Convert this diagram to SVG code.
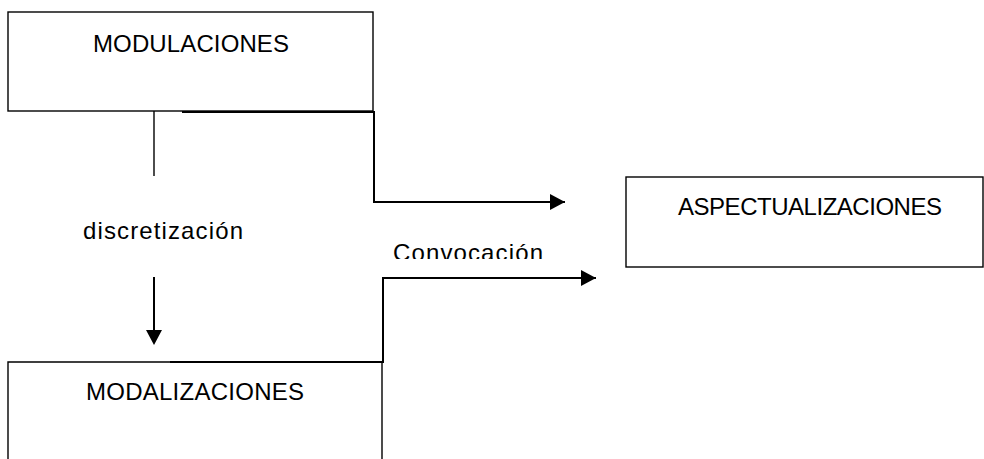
<svg xmlns="http://www.w3.org/2000/svg" width="984" height="459" viewBox="0 0 984 459">
<style>
.box{fill:#fff;stroke:#000;stroke-width:1.4}
.t{font-family:"Liberation Sans",Arial,sans-serif;font-size:24px;fill:#000}
.c{fill:none;stroke:#000;stroke-width:2}
.thin{fill:none;stroke:#000;stroke-width:1.4}
</style>
<defs>
<marker id="ah" markerUnits="userSpaceOnUse" markerWidth="16" markerHeight="16" refX="15" refY="8" orient="auto">
<path d="M0,0 L15,8 L0,16 Z" fill="#000"/>
</marker>
<clipPath id="cc"><rect x="380" y="230" width="200" height="29"/></clipPath>
</defs>
<g id="modulaciones">
<rect class="box" x="8" y="12" width="365" height="99"/>
<text class="t" x="191" y="52" text-anchor="middle" textLength="196">MODULACIONES</text>
</g>
<g id="aspectualizaciones">
<rect class="box" x="626" y="177" width="357" height="90"/>
<text class="t" x="810" y="215" text-anchor="middle" textLength="264">ASPECTUALIZACIONES</text>
</g>
<g id="modalizaciones">
<path class="box" d="M8,470 V362 H382 V470"/>
<text class="t" x="195" y="400" text-anchor="middle" textLength="218">MODALIZACIONES</text>
</g>
<g id="connectors">
<line class="thin" x1="154" y1="111" x2="154" y2="176"/>
<text class="t" x="83" y="239" textLength="160">discretización</text>
<line class="c" x1="154" y1="277" x2="154" y2="331"/>
<polygon points="146,330 162,330 154,345" fill="#000"/>
<path class="c" d="M182,112 H374 V202 H565" marker-end="url(#ah)"/>
<path class="c" d="M170,362 H383 V278 H596" marker-end="url(#ah)"/>
<text class="t" x="393" y="261" textLength="150" clip-path="url(#cc)">Convocación</text>
</g>
</svg>
